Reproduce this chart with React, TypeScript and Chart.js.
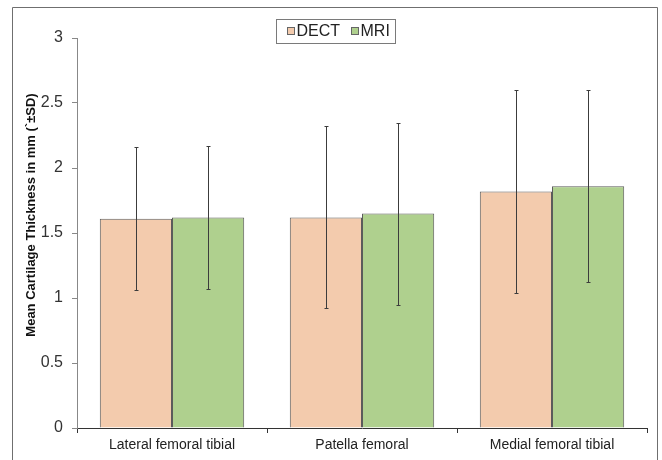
import { useEffect, useRef } from 'react';
import { Chart, registerables } from 'chart.js';

Chart.register(...registerables);

const categories = ['Lateral femoral tibial', 'Patella femoral', 'Medial femoral tibial'];
const seriesNames = ['DECT', 'MRI'];
const dectMeans = [1.61, 1.62, 1.82];
const dectSD = [0.55, 0.7, 0.78];
const mriMeans = [1.62, 1.65, 1.86];
const mriSD = [0.55, 0.7, 0.74];
const yTicks = [0, 0.5, 1, 1.5, 2, 2.5, 3];
const yTitle = 'Mean Cartilage Thickness in mm (`±SD)';

const DECT_COLOR = '#f3cbad';
const MRI_COLOR = '#afd08e';
const BAR_BORDER = '#5b5b5b';
const FONT = '"Liberation Sans", Arial, sans-serif';

const sdBySeries = [dectSD, mriSD];

// bordure du cadre + fond blanc
const frame = {
  id: 'frame',
  beforeDraw(chart: any) {
    const { ctx, width, height } = chart;
    ctx.save();
    ctx.fillStyle = '#fff';
    ctx.fillRect(0, 0, width, height);
    ctx.strokeStyle = '#6f6f6f';
    ctx.lineWidth = 1;
    ctx.beginPath();
    ctx.moveTo(12.5, height + 2);
    ctx.lineTo(12.5, 7.5);
    ctx.lineTo(657.5, 7.5);
    ctx.lineTo(657.5, height + 2);
    ctx.stroke();
    ctx.restore();
  },
};

// barres d'erreur (±SD)
const errorBars = {
  id: 'errorBars',
  afterDatasetsDraw(chart: any) {
    const { ctx } = chart;
    const y = chart.scales.y;
    ctx.save();
    ctx.strokeStyle = '#3c3c3c';
    ctx.lineWidth = 1;
    chart.data.datasets.forEach((ds: any, i: number) => {
      const sd = sdBySeries[i];
      chart.getDatasetMeta(i).data.forEach((bar: any, j: number) => {
        const x = Math.round(bar.x) + 0.5;
        const top = Math.round(y.getPixelForValue(ds.data[j] + sd[j])) + 0.5;
        const bottom = Math.round(y.getPixelForValue(ds.data[j] - sd[j])) + 0.5;
        ctx.beginPath();
        ctx.moveTo(x, top);
        ctx.lineTo(x, bottom);
        ctx.moveTo(x - 2, top);
        ctx.lineTo(x + 2, top);
        ctx.moveTo(x - 2, bottom);
        ctx.lineTo(x + 2, bottom);
        ctx.stroke();
      });
    });
    ctx.restore();
  },
};

// légende encadrée + titre de l'axe Y
const decorations = {
  id: 'decorations',
  afterDraw(chart: any) {
    const { ctx } = chart;
    ctx.save();
    ctx.strokeStyle = '#7a7a7a';
    ctx.lineWidth = 1;
    ctx.strokeRect(276.5, 19.5, 119, 24);

    ctx.font = `16px ${FONT}`;
    ctx.textBaseline = 'middle';
    ctx.textAlign = 'left';
    const swatchX = [287.5, 351.5];
    chart.data.datasets.forEach((ds: any, i: number) => {
      ctx.fillStyle = ds.backgroundColor;
      ctx.fillRect(swatchX[i], 27.5, 7, 7);
      ctx.strokeStyle = '#666';
      ctx.strokeRect(swatchX[i], 27.5, 7, 7);
      ctx.fillStyle = '#222';
      ctx.fillText(ds.label, swatchX[i] + 9, 32);
    });

    ctx.translate(31, 215);
    ctx.rotate(-Math.PI / 2);
    ctx.textAlign = 'center';
    ctx.font = `bold 13px "Liberation Sans Narrow", ${FONT}`;
    ctx.fillStyle = '#111';
    ctx.fillText(yTitle, 0, 0);
    ctx.restore();
  },
};

export default function App() {
  const canvasRef = useRef<HTMLCanvasElement>(null);

  useEffect(() => {
    document.body.style.margin = '0';
    if (!canvasRef.current) return;

    const chart = new Chart(canvasRef.current, {
      type: 'bar',
      data: {
        labels: categories,
        datasets: [
          {
            label: seriesNames[0],
            data: dectMeans,
            backgroundColor: DECT_COLOR,
            borderColor: BAR_BORDER,
            borderWidth: 1,
          },
          {
            label: seriesNames[1],
            data: mriMeans,
            backgroundColor: MRI_COLOR,
            borderColor: BAR_BORDER,
            borderWidth: 1,
          },
        ],
      },
      options: {
        animation: false,
        responsive: true,
        maintainAspectRatio: false,
        datasets: {
          bar: { categoryPercentage: 0.76, barPercentage: 1.0 },
        },
        layout: { padding: { top: 38, right: 15, left: 0, bottom: 0 } },
        plugins: {
          legend: { display: false },
          tooltip: { enabled: false },
        },
        scales: {
          x: {
            afterFit: (s: any) => {
              s.height = 32;
            },
            border: { color: '#333', width: 1 },
            grid: {
              offset: true,
              drawOnChartArea: false,
              drawTicks: true,
              tickLength: 5,
              color: '#333',
            },
            ticks: {
              color: '#222',
              padding: 4,
              font: { size: 14, family: FONT },
            },
          },
          y: {
            min: 0,
            max: 3,
            afterFit: (s: any) => {
              s.width = 77;
            },
            afterBuildTicks: (s: any) => {
              s.ticks = yTicks.map((v) => ({ value: v }));
            },
            border: { color: '#888', width: 1 },
            grid: {
              drawOnChartArea: false,
              drawTicks: true,
              tickLength: 5,
              color: '#888',
            },
            ticks: {
              color: '#333',
              padding: 9,
              font: { size: 16, family: FONT },
              callback: (v: any) => String(v),
            },
          },
        },
      },
      plugins: [frame, errorBars, decorations],
    });

    return () => {
      chart.destroy();
    };
  }, []);

  return (
    <div style={{ width: 662, height: 460, position: 'relative' }}>
      <canvas ref={canvasRef} />
    </div>
  );
}
